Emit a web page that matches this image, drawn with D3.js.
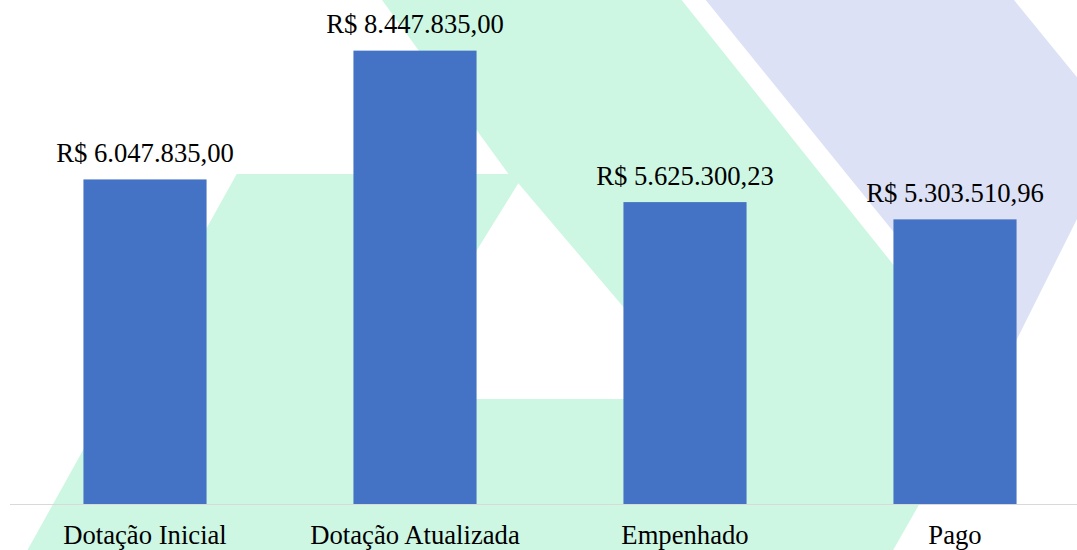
<!DOCTYPE html>
<html>
<head>
<meta charset="utf-8">
<script src="https://cdn.jsdelivr.net/npm/d3@7"></script>
<style>
  html, body { margin: 0; padding: 0; background: #ffffff; }
  svg { display: block; }
  svg text { font-family: "Liberation Serif"; }
</style>
</head>
<body>
<svg id="chart" width="1077" height="550"></svg>
<script>
// ---- data ----
const categories = ["Dotação Inicial", "Dotação Atualizada", "Empenhado", "Pago"];
const values = [6047835.00, 8447835.00, 5625300.23, 5303510.96];
const yDomain = [0, 9000000];

// ---- decorative watermark shapes (background logo) ----
const greenOuter = [[382,0],[681.6,0],[988.2,383.3],[893.2,550],[27.5,550],[236.7,174],[508.5,174]];
const greenHole  = [[518.3,183.3],[701.6,399],[384.6,399]];
const lavender   = [[705.7,0],[1014,0],[1121,131],[1003,367]];

const W = 1077, H = 550;
const FONT = '"Liberation Serif"';
const svg = d3.select("#chart");

const loc = d3.formatLocale({decimal: ",", thousands: ".", grouping: [3], currency: ["R$ ", ""]});
const fmt = loc.format("$,.2f");

// background
const bg = svg.append("g");
const toPath = pts => "M" + pts.map(p => p.join(",")).join("L") + "Z";
bg.append("path")
  .attr("d", toPath(greenOuter) + toPath(greenHole))
  .attr("fill-rule", "evenodd")
  .attr("fill", "#cdf7e3");
bg.append("path")
  .attr("d", toPath(lavender))
  .attr("fill", "#dde1f5");

// scales
const x = d3.scaleBand()
  .domain(categories)
  .range([10, 1090])
  .paddingInner(0.544)
  .paddingOuter(0.272);

const y = d3.scaleLinear()
  .domain(yDomain)
  .range([504, 21]);

const data = categories.map((c, i) => ({cat: c, val: values[i]}));

// bars
svg.append("g").selectAll("rect")
  .data(data)
  .join("rect")
  .attr("x", d => x(d.cat))
  .attr("y", d => y(d.val))
  .attr("width", x.bandwidth())
  .attr("height", d => y(0) - y(d.val))
  .attr("fill", "#4472c4");

// axis line
const axis = d3.axisBottom(x).tickSize(0).tickPadding(0);
const gAxis = svg.append("g")
  .attr("transform", `translate(0,${y(0)})`)
  .call(axis)
  .attr("font-family", null)
  .attr("font-size", null);
gAxis.select(".domain").remove();
gAxis.append("line")
  .attr("x1", 10).attr("x2", W)
  .attr("y1", 0.5).attr("y2", 0.5)
  .attr("stroke", "#d9d9d9")
  .attr("stroke-width", 1.2);
gAxis.selectAll(".tick text")
  .attr("dy", null)
  .attr("y", 40)
  .style("font-family", FONT)
  .style("font-size", "26.67px")
  .attr("fill", "#000");

// value labels
svg.append("g").selectAll("text")
  .data(data)
  .join("text")
  .attr("x", d => x(d.cat) + x.bandwidth() / 2)
  .attr("y", d => y(d.val) - 17.5)
  .attr("text-anchor", "middle")
  .style("font-family", FONT)
  .style("font-size", "26.67px")
  .attr("fill", "#000")
  .text(d => fmt(d.val));
</script>
</body>
</html>
